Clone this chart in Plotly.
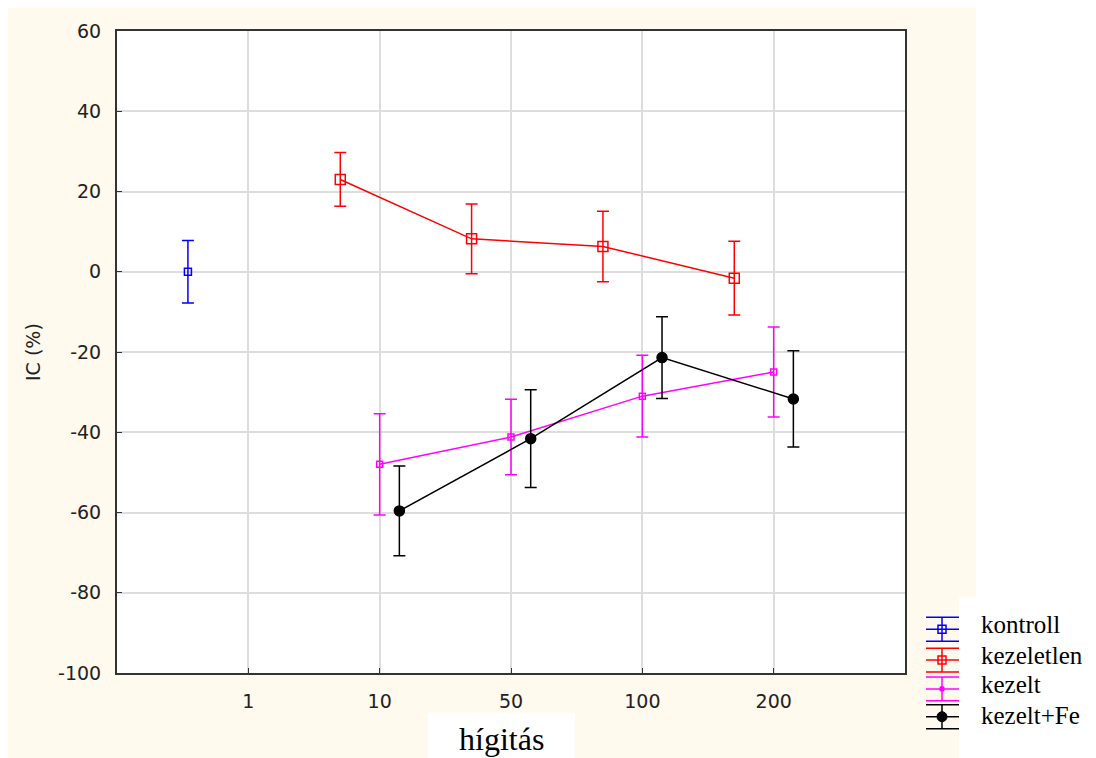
import plotly.graph_objects as go

# x-axis categories (dilution) at positions 1..5
categories = ["1", "10", "50", "100", "200"]

# series values (IC %) and error half-widths
kontroll_y = [0.0]
kontroll_err = [7.8]

kezeletlen_y = [23.0, 8.2, 6.3, -1.6]
kezeletlen_err = [6.7, 8.7, 8.8, 9.2]

kezelt_y = [-48.0, -41.2, -31.0, -25.0]
kezelt_err = [12.6, 9.4, 10.2, 11.2]

kezelt_fe_y = [-59.6, -41.6, -21.4, -31.7]
kezelt_fe_err = [11.2, 12.2, 10.2, 12.0]

yticks = [-100, -80, -60, -40, -20, 0, 20, 40, 60]

# category positions and per-series horizontal offsets
pos = list(range(2, 2 + len(kezelt_y)))
kontroll_x = [0.54]
off = {"kezeletlen": -0.3, "kezelt": 0.0, "kezelt+Fe": 0.15}

ax_font = dict(family="DejaVu Sans", size=19, color="#222222")
serif = "Liberation Serif, Times New Roman"

# plot area in page pixels (page has an 8px body margin)
PX0, PX1, PY0, PY1 = 117, 905, 27, 673


def px(x):
    return (x - PX0) / (PX1 - PX0)


def py(y):
    return (PY1 - y) / (PY1 - PY0)


def series(name, x, y, err, color, symbol, size):
    return go.Scatter(
        name=name, x=x, y=y, mode="lines+markers",
        line=dict(color=color, width=1.5),
        marker=dict(symbol=symbol, size=size, color=color,
                    line=dict(color=color, width=1.5)),
        error_y=dict(type="data", array=err, visible=True, color=color,
                     thickness=1.5, width=6),
    )


fig = go.Figure()
fig.add_trace(series("kontroll", kontroll_x, kontroll_y, kontroll_err,
                     "#0000FF", "square-open", 7))
fig.add_trace(series("kezeletlen", [p + off["kezeletlen"] for p in pos],
                     kezeletlen_y, kezeletlen_err, "#FF0000", "square-open", 10))
fig.add_trace(series("kezelt", [p + off["kezelt"] for p in pos],
                     kezelt_y, kezelt_err, "#FF00FF", "square-open", 6))
fig.add_trace(series("kezelt+Fe", [p + off["kezelt+Fe"] for p in pos],
                     kezelt_fe_y, kezelt_fe_err, "#000000", "circle", 10))

# cream page background, white patches behind plot, legend and x title
for x0, x1, y0, y1, col in [
    (0, 976, 800, 0, "#FFF9EE"),
    (PX0, PX1, PY1, PY0, "white"),
    (959, 1100, 800, 597, "white"),
    (428, 575, 800, 713, "white"),
]:
    fig.add_shape(type="rect", xref="paper", yref="paper", layer="below",
                  x0=px(x0), x1=px(x1), y0=py(y0), y1=py(y1),
                  fillcolor=col, line_width=0)

fig.add_annotation(text="hígitás", xref="paper", yref="paper",
                   x=px(501), y=py(739), xanchor="center", yanchor="middle",
                   showarrow=False,
                   font=dict(family=serif, size=32, color="black"))
fig.add_annotation(text="IC (%)", xref="paper", yref="paper",
                   x=px(33), y=py(350), xanchor="center", yanchor="middle",
                   showarrow=False, textangle=-90,
                   font=dict(family="DejaVu Sans", size=19, color="#222222"))

# hand-drawn legend in the Statistica style (error-bar glyph + marker)
legend_items = [
    ("kontroll", "#0000FF", "rect-open", 629, 624),
    ("kezeletlen", "#FF0000", "rect-open", 660, 655),
    ("kezelt", "#FF00FF", "tri", 689, 685),
    ("kezelt+Fe", "#000000", "dot", 717, 716),
]
for label, color, mk, ys, yt in legend_items:
    for dy in (-12, 0, 12):
        fig.add_shape(type="line", xref="paper", yref="paper",
                      x0=px(926), x1=px(959), y0=py(ys + dy), y1=py(ys + dy),
                      line=dict(color=color, width=1.5))
    fig.add_shape(type="line", xref="paper", yref="paper",
                  x0=px(942), x1=px(942), y0=py(ys - 12), y1=py(ys + 12),
                  line=dict(color=color, width=1.5))
    if mk == "rect-open":
        fig.add_shape(type="rect", xref="paper", yref="paper",
                      x0=px(938), x1=px(946), y0=py(ys + 4), y1=py(ys - 4),
                      line=dict(color=color, width=1.5))
    elif mk == "tri":
        fig.add_shape(type="rect", xref="paper", yref="paper",
                      x0=px(940), x1=px(944), y0=py(ys + 2), y1=py(ys - 2),
                      fillcolor=color, line=dict(color=color, width=1))
    else:
        fig.add_shape(type="circle", xref="paper", yref="paper",
                      x0=px(937), x1=px(947), y0=py(ys + 5), y1=py(ys - 5),
                      fillcolor=color, line=dict(color=color, width=1))
    fig.add_annotation(text=label, xref="paper", yref="paper",
                       x=px(979), y=py(yt), xanchor="left", yanchor="middle",
                       showarrow=False,
                       font=dict(family=serif, size=25, color="black"))

fig.update_layout(
    width=1088, height=750,
    margin=dict(l=PX0 - 8, r=1096 - PX1, t=PY0 - 8, b=758 - PY1),
    paper_bgcolor="white", plot_bgcolor="white",
    showlegend=False,
    xaxis=dict(range=[0, 6], tickvals=[1, 2, 3, 4, 5], ticktext=categories,
               showgrid=True, gridcolor="#DDDDDD", gridwidth=1.5,
               zeroline=False, showline=True, linecolor="#333333",
               linewidth=2, mirror=True, ticks="inside", ticklen=5,
               tickcolor="#333333", tickfont=ax_font, ticklabelstandoff=10),
    yaxis=dict(range=[-100, 60], tickvals=yticks,
               ticktext=[str(v) for v in yticks],
               showgrid=True, gridcolor="#DDDDDD", gridwidth=1.5,
               zeroline=False, showline=True, linecolor="#333333",
               linewidth=2, mirror=True, ticks="inside", ticklen=5,
               tickcolor="#333333", tickfont=ax_font, ticklabelstandoff=10),
)

fig.write_html("out.html")
